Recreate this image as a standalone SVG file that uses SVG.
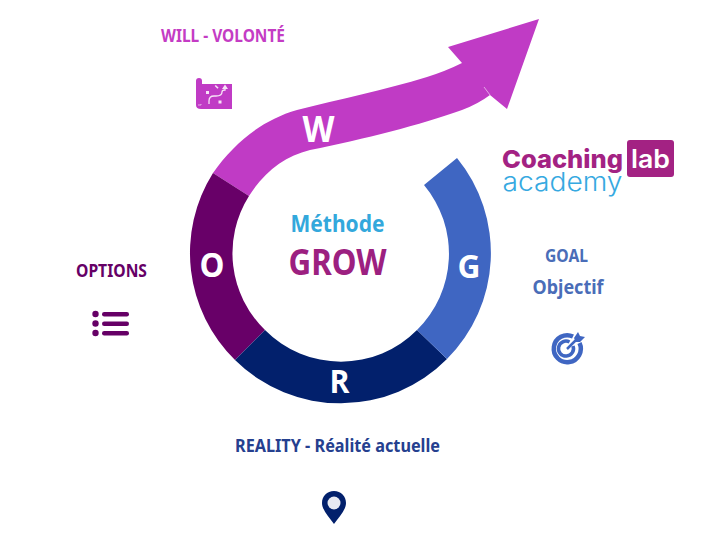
<svg xmlns="http://www.w3.org/2000/svg" width="718" height="539" viewBox="0 0 718 539">
<style>
text{font-family:"Noto Sans","Open Sans","Liberation Sans",sans-serif;font-weight:700;text-anchor:middle}
.seg{fill:#fff;font-family:"Open Sans","Liberation Sans",sans-serif}
.lab{font-size:17.500px}
.logo{font-family:Inter,"Liberation Sans",sans-serif}
</style>
<rect width="718" height="539" fill="#fff"/>
<g id="node-w">
<path d="M213 173C234 143 262 120 297 110C340 99 385 90 427 77Q446 71 462 63L448 47L539 19L507 109L490 95Q478 104 462 110C420 125 365 139 310 150C285 156 264 172 249 196Z" fill="#C03BC5"/>
<path d="M484 87L490 95" stroke="#E3A6E6" stroke-width="1" fill="none"/>
<text class="seg" x="318.500" y="142" font-size="36" textLength="32" lengthAdjust="spacingAndGlyphs">W</text>
<text class="lab" x="223" y="42" fill="#C43CC4" textLength="124" lengthAdjust="spacingAndGlyphs">WILL - VOLONTÉ</text>
<g id="icon-will">
<path d="M196 81Q196 78 199 78Q202 78 202 81V84H232V109H201Q196 109 196 105Z" fill="#C03BC5"/>
<path d="M201 104V105H198" fill="none" stroke="#EFC6F0" stroke-width="0.800"/>
<path d="M209 104V101Q209 96 214 96H216Q222 96 222 92Q222 90 225 90V88" fill="none" stroke="#F6E3F6" stroke-width="1.300"/>
<path d="M222 89L225 84.500L228 89Z" fill="#F6E3F6"/>
<g fill="#F6E3F6"><rect x="206" y="91" width="3" height="3"/><rect x="218.500" y="100.500" width="3" height="3"/><rect x="214.500" y="86" width="4" height="1.600" transform="rotate(45 216.500 87)"/></g>
</g>
</g>
<g id="node-o">
<path d="M213 173A150 150 0 0 0 235 360L265 330A107 107 0 0 1 249 196Z" fill="#680068"/>
<text class="seg" x="212" y="277" font-size="34" textLength="25" lengthAdjust="spacingAndGlyphs">O</text>
<text class="lab" x="111.500" y="277" fill="#660066" textLength="71" lengthAdjust="spacingAndGlyphs">OPTIONS</text>
<g id="icon-options" fill="#660066">
<circle cx="95.500" cy="314" r="3.200"/><circle cx="95.500" cy="323.500" r="3.200"/><circle cx="95.500" cy="333" r="3.200"/>
<rect x="102" y="312" width="27" height="4.500" rx="2.200"/><rect x="102" y="321.500" width="27" height="4.500" rx="2.200"/><rect x="102" y="331" width="27" height="4.500" rx="2.200"/>
</g>
</g>
<g id="node-r">
<path d="M235 360A150 150 0 0 0 447 359L417 330A107 107 0 0 1 265 330Z" fill="#02206C"/>
<text class="seg" x="339.500" y="393" font-size="33" textLength="20" lengthAdjust="spacingAndGlyphs">R</text>
<text class="lab" x="337.500" y="452" fill="#25408F" textLength="205" lengthAdjust="spacingAndGlyphs">REALITY - Réalité actuelle</text>
<g id="icon-reality">
<path d="M334 491C327 491 322 496 322 503C322 510 329 517 334 524C339 517 346 510 346 503C346 496 341 491 334 491Z" fill="#02206C"/>
<circle cx="334" cy="503" r="6.500" fill="#E8EAF2"/>
</g>
</g>
<g id="node-g">
<path d="M457 158A150 150 0 0 1 447 359L417 330A107 107 0 0 0 424 185Z" fill="#3F66C2"/>
<text class="seg" x="469" y="278" font-size="33" textLength="23" lengthAdjust="spacingAndGlyphs">G</text>
<text class="lab" x="566.500" y="262" style="font-size:17px" fill="#4A6DB8" textLength="43" lengthAdjust="spacingAndGlyphs">GOAL</text>
<text x="568" y="294" fill="#4A6DB8" font-size="19" textLength="71" lengthAdjust="spacingAndGlyphs">Objectif</text>
<g id="icon-goal" fill="none" stroke="#3F66C2">
<path d="M579.500 343A13.500 13.500 0 1 1 573 336.500" stroke-width="4.500"/>
<path d="M573 346A7.500 7.500 0 1 1 569.500 342" stroke-width="3.500"/>
<path d="M567 349L578 338" stroke-width="2.500"/>
<path d="M574 338L578 332L580 336L585 337L580 342L576 342Z" fill="#3F66C2" stroke="none"/>
</g>
</g>
<g id="node-center">
<text x="337.500" y="232" fill="#33A8DC" font-size="22.500" textLength="94" lengthAdjust="spacingAndGlyphs">Méthode</text>
<text x="337.500" y="274.500" fill="#9C2080" font-size="36" textLength="98" lengthAdjust="spacingAndGlyphs">GROW</text>
</g>
<g id="node-logo">
<rect x="627" y="140" width="47" height="37" rx="3" fill="#A32283"/>
<text class="logo" x="650.500" y="167.500" fill="#fff" font-size="25" textLength="39" lengthAdjust="spacingAndGlyphs" style="font-weight:600">lab</text>
<text class="logo" x="562.500" y="168" fill="#A32283" font-size="25" textLength="121" lengthAdjust="spacingAndGlyphs" style="font-weight:800">Coaching</text>
<text class="logo" x="562.500" y="190.500" fill="#36A9E1" font-size="26" textLength="120" lengthAdjust="spacingAndGlyphs" style="font-weight:300">academy</text>
</g>
<g id="connectors"/>
</svg>
